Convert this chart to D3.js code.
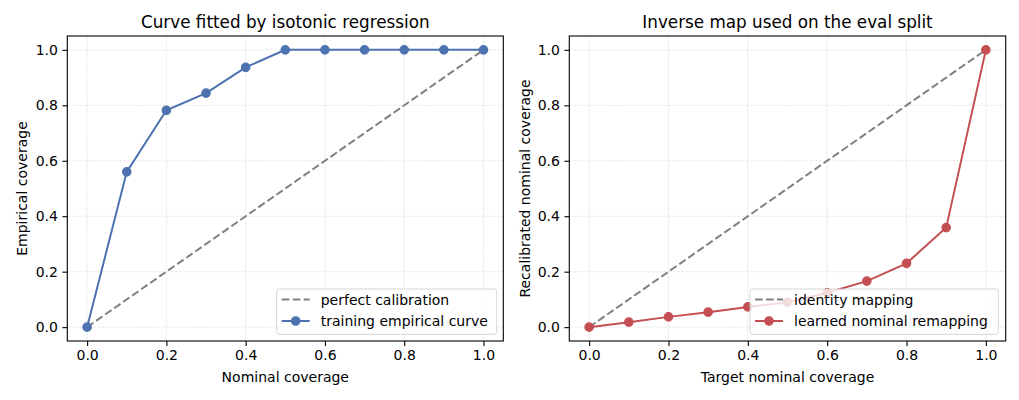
<!DOCTYPE html>
<html>
<head>
<meta charset="utf-8">
<script src="https://cdn.jsdelivr.net/npm/d3@7"></script>
<style>
  body { margin: 0; background: #fff; }
  svg text { font-family: "DejaVu Sans", sans-serif; fill: #000; }
</style>
</head>
<body>
<div id="chart"></div>
<script>
// data
const nominal = [0.0, 0.1, 0.2, 0.3, 0.4, 0.5, 0.6, 0.7, 0.8, 0.9, 1.0];
const empirical = [0.0, 0.56, 0.782, 0.844, 0.937, 1.0, 1.0, 1.0, 1.0, 1.0, 1.0];
const target = [0.0, 0.1, 0.2, 0.3, 0.4, 0.5, 0.6, 0.7, 0.8, 0.9, 1.0];
const remapped = [0.0, 0.018, 0.037, 0.054, 0.073, 0.09, 0.124, 0.166, 0.23, 0.359, 1.0];
const diagonal = [0.0, 1.0];
const ticks = [0.0, 0.2, 0.4, 0.6, 0.8, 1.0];

const panels = [
  {
    left: 67.3, right: 503.3,
    title: "Curve fitted by isotonic regression",
    xlabel: "Nominal coverage", ylabel: "Empirical coverage",
    xs: nominal, ys: empirical, color: "#4C72B0",
    refName: "perfect calibration", curveName: "training empirical curve",
    legend: {x: 276.7, w: 220},
    ylabelX: 22
  },
  {
    left: 569.3, right: 1005.7,
    title: "Inverse map used on the eval split",
    xlabel: "Target nominal coverage", ylabel: "Recalibrated nominal coverage",
    xs: target, ys: remapped, color: "#C44E52",
    refName: "identity mapping", curveName: "learned nominal remapping",
    legend: {x: 750, w: 248.3},
    ylabelX: 525.5
  }
];

const W = 1019, H = 400, plotTop = 36, plotBottom = 341;

const svg = d3.select("#chart")
  .append("svg")
    .attr("width", W)
    .attr("height", H);

panels.forEach(function(p) {
  const x = d3.scaleLinear().domain([-0.05, 1.05]).range([p.left, p.right]);
  const y = d3.scaleLinear().domain([-0.05, 1.05]).range([plotBottom, plotTop]);

  const g = svg.append("g");

  // grid
  g.append("g").selectAll("line")
    .data(ticks)
    .join("line")
      .attr("x1", d => x(d)).attr("x2", d => x(d))
      .attr("y1", plotTop).attr("y2", plotBottom)
      .attr("stroke", "#b0b0b0").attr("stroke-opacity", 0.35)
      .attr("stroke-width", 0.8).attr("stroke-dasharray", "3,1.3");
  g.append("g").selectAll("line")
    .data(ticks)
    .join("line")
      .attr("y1", d => y(d)).attr("y2", d => y(d))
      .attr("x1", p.left).attr("x2", p.right)
      .attr("stroke", "#b0b0b0").attr("stroke-opacity", 0.35)
      .attr("stroke-width", 0.8).attr("stroke-dasharray", "3,1.3");

  // reference diagonal
  g.append("path")
    .datum(diagonal)
    .attr("d", d3.line().x(d => x(d)).y(d => y(d)))
    .attr("fill", "none")
    .attr("stroke", "#808080")
    .attr("stroke-width", 2)
    .attr("stroke-dasharray", "7.7,3.3");

  // fitted curve
  const pts = p.xs.map((v, i) => [v, p.ys[i]]);
  g.append("path")
    .datum(pts)
    .attr("d", d3.line().x(d => x(d[0])).y(d => y(d[1])))
    .attr("fill", "none")
    .attr("stroke", p.color)
    .attr("stroke-width", 2);
  g.append("g").selectAll("circle")
    .data(pts)
    .join("circle")
      .attr("cx", d => x(d[0]))
      .attr("cy", d => y(d[1]))
      .attr("r", 4.2)
      .attr("fill", p.color)
      .attr("stroke", p.color)
      .attr("stroke-width", 1.2);

  // axes
  const xAxis = g.append("g")
    .attr("transform", `translate(0, ${plotBottom})`)
    .call(d3.axisBottom(x).tickValues(ticks).tickFormat(d3.format(".1f")).tickSize(4.9).tickPadding(4.5));
  const yAxis = g.append("g")
    .attr("transform", `translate(${p.left}, 0)`)
    .call(d3.axisLeft(y).tickValues(ticks).tickFormat(d3.format(".1f")).tickSize(4.9).tickPadding(4.5));
  [xAxis, yAxis].forEach(function(a) {
    a.select(".domain").remove();
    a.selectAll("line").attr("stroke", "#000").attr("stroke-width", 1.1);
    a.selectAll("text").attr("font-size", 14).attr("font-family", "DejaVu Sans").attr("fill", "#000");
  });

  // frame
  g.append("rect")
    .attr("x", p.left).attr("y", plotTop)
    .attr("width", p.right - p.left).attr("height", plotBottom - plotTop)
    .attr("fill", "none").attr("stroke", "#000").attr("stroke-width", 1.1);

  // titles and labels
  g.append("text")
    .attr("x", (p.left + p.right) / 2).attr("y", 28)
    .attr("text-anchor", "middle").attr("font-size", 16.8)
    .text(p.title);
  g.append("text")
    .attr("x", (p.left + p.right) / 2).attr("y", 382)
    .attr("text-anchor", "middle").attr("font-size", 14)
    .text(p.xlabel);
  g.append("text")
    .attr("transform", `translate(${p.ylabelX}, ${(plotTop + plotBottom) / 2}) rotate(-90)`)
    .attr("text-anchor", "middle").attr("dy", "0.35em").attr("font-size", 14)
    .text(p.ylabel);

  // legend
  const lg = g.append("g").attr("transform", `translate(${p.legend.x}, 289)`);
  lg.append("rect")
    .attr("width", p.legend.w).attr("height", 45.3)
    .attr("rx", 2.8)
    .attr("fill", "#fff").attr("fill-opacity", 0.8)
    .attr("stroke", "#cccccc").attr("stroke-opacity", 0.8).attr("stroke-width", 1);
  lg.append("line")
    .attr("x1", 5).attr("x2", 33).attr("y1", 10.5).attr("y2", 10.5)
    .attr("stroke", "#808080").attr("stroke-width", 2).attr("stroke-dasharray", "7.7,3.3");
  lg.append("line")
    .attr("x1", 5).attr("x2", 33).attr("y1", 32).attr("y2", 32)
    .attr("stroke", p.color).attr("stroke-width", 2);
  lg.append("circle")
    .attr("cx", 19).attr("cy", 32).attr("r", 4.2)
    .attr("fill", p.color).attr("stroke", p.color).attr("stroke-width", 1.2);
  lg.append("text").attr("x", 44).attr("y", 15.5).attr("font-size", 14).text(p.refName);
  lg.append("text").attr("x", 44).attr("y", 37).attr("font-size", 14).text(p.curveName);
});
</script>
</body>
</html>
